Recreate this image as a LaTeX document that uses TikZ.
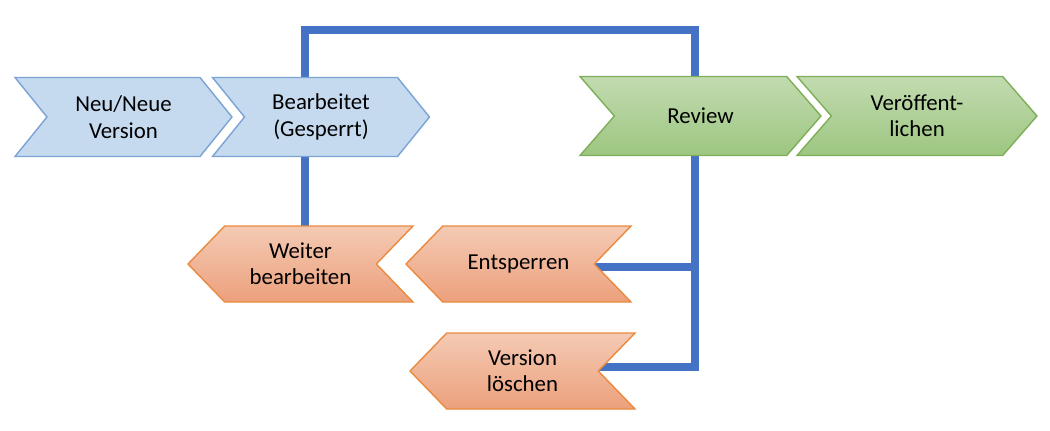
\documentclass[tikz,border=0pt]{standalone}
\usepackage{fontspec}
\setmainfont{Carlito}
\usetikzlibrary{shapes.symbols}
\definecolor{lineblue}{HTML}{4472C4}
\definecolor{bluefill}{HTML}{C5D9EF}
\definecolor{blueedge}{HTML}{7BA3D4}
\definecolor{greentop}{HTML}{C2DBB0}
\definecolor{greenbot}{HTML}{9DC681}
\definecolor{greenedge}{HTML}{7EAF58}
\definecolor{orangetop}{HTML}{F4CAB4}
\definecolor{orangebot}{HTML}{ECA07C}
\definecolor{orangeedge}{HTML}{E98A3F}
\begin{document}
\begin{tikzpicture}[x=0.02cm,y=-0.02cm]
        \tikzstyle{fwd} = [signal, signal from=west, signal to=east, thick, align=center,
            minimum height=1.58cm, inner sep=0pt, font=\fontsize{13}{15}\selectfont]
        \tikzstyle{bwd} = [signal, signal from=east, signal to=west, thick, align=center,
            minimum height=1.52cm, inner sep=0pt, font=\fontsize{13}{15}\selectfont]
        \tikzstyle{editstep} = [fwd, draw=blueedge, fill=bluefill, minimum width=4.34cm, signal pointer angle=102]
        \tikzstyle{pubstep} = [fwd, draw=greenedge, top color=greentop, bottom color=greenbot, signal pointer angle=98]
        \tikzstyle{undostep} = [bwd, draw=orangeedge, top color=orangetop, bottom color=orangebot, minimum width=4.5cm, signal pointer angle=92]
        \tikzstyle{link} = [-, line width=5pt, draw=lineblue]
        \useasboundingbox (0,0) rectangle (1050,430);
        \coordinate (topl) at (305,30);
        \coordinate (topr) at (695,30);
        \coordinate (midr) at (695,267);
        \coordinate (botr) at (695,367);
        % lines behind the shapes
        \coordinate (weiterTop) at (305,226);
        \coordinate (entsEnd) at (590,267);
        \coordinate (loeschEnd) at (595,367);
        \draw[link] (weiterTop) -- (topl) -- (topr) -- (botr) -- (loeschEnd);
        \draw[link] (midr) -- (entsEnd);
        \node[editstep] (neu) at (123.5,117) {Neu/Neue\\Version};
        \node[editstep] (bearb) at (321,117) {Bearbeitet\\(Gesperrt)};
        \node[pubstep, minimum width=4.82cm] (review) at (700.5,116) {Review};
        \node[pubstep, minimum width=4.8cm] (publ) at (917,116) {Veröffent-\\lichen};
        \node[undostep] (weiter) at (300.5,264) {Weiter\\bearbeiten};
        \node[undostep] (ents) at (518.5,264) {Entsperren};
        \node[undostep] (loesch) at (522.5,371) {Version\\löschen};
\end{tikzpicture}
\end{document}
